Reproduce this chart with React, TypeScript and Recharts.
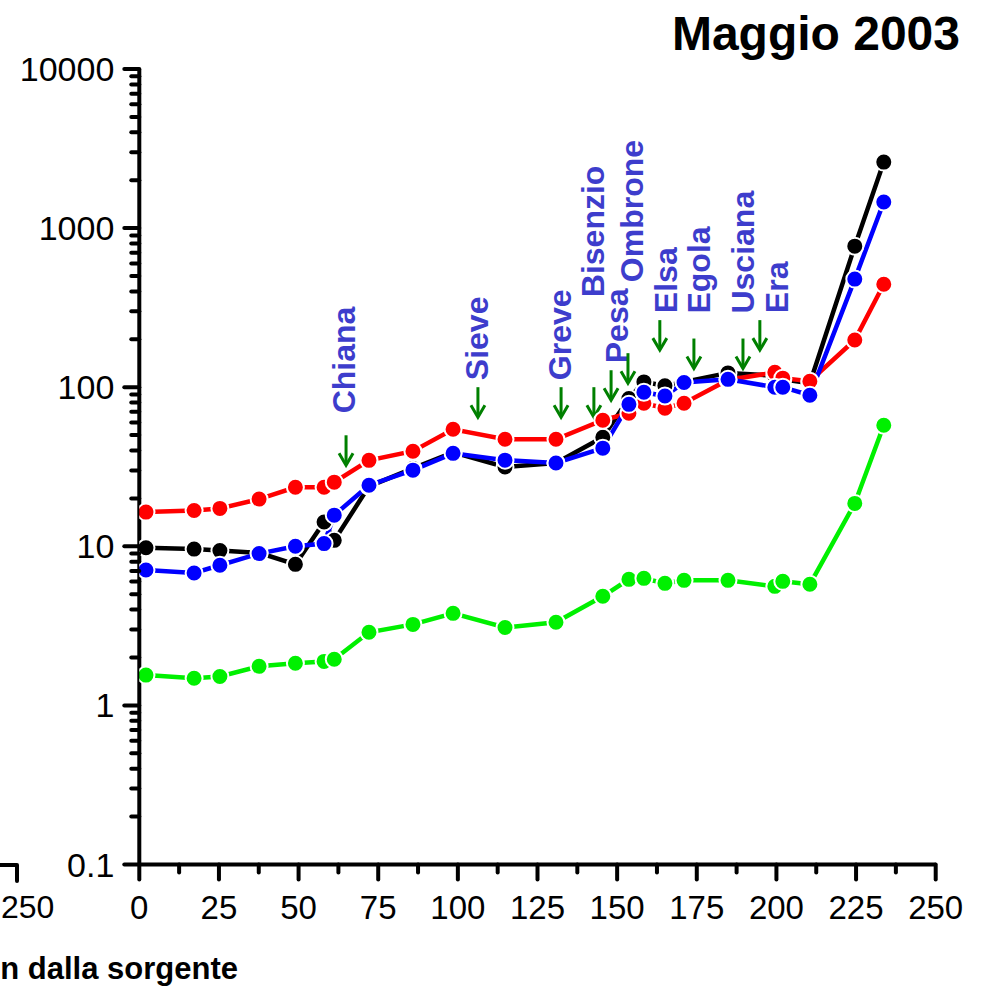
import React from 'react';
import { LineChart, Line, XAxis, YAxis, ReferenceDot } from 'recharts';

// distanza dalla sorgente (km)
const km = [2.1, 17.2, 25.3, 37.6, 49.0, 58.0, 61.2, 72.1, 85.9, 98.5, 114.8, 130.8, 145.5, 153.7, 158.4, 165.0, 171.0, 184.8, 199.5, 202.0, 210.5, 224.6, 233.7];

const blackValues = [9.8, 9.6, 9.4, 9.1, 7.7, 14.2, 10.9, 23.8, 30.9, 39, 31.5, 33.4, 48.5, 85, 108, 102, 108, 123, 118, 112, 106, 770, 2600];
const redValues = [16.4, 16.8, 17.3, 19.8, 23.5, 23.5, 25.3, 34.7, 39.6, 54.4, 47.1, 47.1, 62, 68.6, 79.3, 73.8, 79.3, 111, 124, 114, 109, 198, 444];
const blueValues = [7.1, 6.8, 7.6, 9.0, 10.0, 10.4, 15.7, 24.2, 30.1, 38.4, 34.8, 33.4, 41.4, 78, 93, 88, 107, 112, 100, 100, 89, 478, 1460];
const greenValues = [1.55, 1.48, 1.52, 1.76, 1.84, 1.89, 1.95, 2.88, 3.23, 3.79, 3.09, 3.33, 4.85, 6.2, 6.29, 5.85, 6.11, 6.11, 5.6, 6.02, 5.77, 18.6, 57.7];

// affluenti
const tributaries = ['Chiana', 'Sieve', 'Greve', 'Bisenzio', 'Pesa', 'Ombrone', 'Elsa', 'Egola', 'Usciana', 'Era'];
const tributaryKm = [64.9, 106.3, 132.4, 142.7, 148.1, 153.4, 163.4, 174.1, 189.5, 194.8];
const arrowTipValue = [32.3, 64.8, 64.8, 64.8, 82.8, 106, 171, 131, 131, 171];
// label offset from arrow tip, px
const labelOffsets = [
  [8.5, -52], [10.5, -37], [10, -37], [10.5, -120], [16.5, -37],
  [15.5, -101], [17.5, -37], [16.5, -55], [11.5, -55], [28.5, -37],
];

const xTicks = [0, 12.5, 25, 37.5, 50, 62.5, 75, 87.5, 100, 112.5, 125, 137.5, 150, 162.5, 175, 187.5, 200, 212.5, 225, 237.5, 250];
const decades = [0.1, 1, 10, 100, 1000, 10000];
const yTickLabels = ['0.1', '1', '10', '100', '1000', '10000'];
const minorSteps = [2, 3, 4, 5, 6, 7, 8, 9];

const yTicks: number[] = [];
decades.forEach((d, i) => {
  yTicks.push(d);
  if (i < decades.length - 1) minorSteps.forEach((m) => yTicks.push(+(d * m).toPrecision(3)));
});

const data = km.map((k, i) => ({
  km: k,
  black: blackValues[i],
  red: redValues[i],
  blue: blueValues[i],
  green: greenValues[i],
}));

const FONT = '"Liberation Sans", Arial, sans-serif';

function YTick({ x, y, payload }: any) {
  const idx = decades.findIndex((d) => Math.abs(d - payload.value) < 1e-9);
  const major = idx >= 0;
  return (
    <g>
      <line x1={x - (major ? 15 : 8)} y1={y} x2={x} y2={y} stroke="#000" strokeWidth={4} strokeLinecap="round" />
      {major && (
        <text x={x - 25} y={y + 12} textAnchor="end" fontSize={34} fontFamily={FONT} fill="#000">
          {yTickLabels[idx]}
        </text>
      )}
    </g>
  );
}

function XTick({ x, y, payload }: any) {
  const major = payload.value % 25 === 0;
  return (
    <g>
      <line x1={x} y1={y} x2={x} y2={y + (major ? 15 : 8)} stroke="#000" strokeWidth={4} strokeLinecap="round" />
      {major && (
        <text x={x} y={y + 54} textAnchor="middle" fontSize={33} fontFamily={FONT} fill="#000">
          {payload.value}
        </text>
      )}
    </g>
  );
}

function makeArrow(i: number) {
  return (props: any) => {
    const { cx, cy } = props;
    const [dx, dy] = labelOffsets[i];
    return (
      <g>
        <line x1={cx} y1={cy - 30} x2={cx} y2={cy - 1} stroke="#008000" strokeWidth={3} />
        <polyline points={`${cx - 7},${cy - 12} ${cx},${cy} ${cx + 7},${cy - 12}`} fill="none" stroke="#008000" strokeWidth={3} />
        <text
          x={cx + dx}
          y={cy + dy}
          transform={`rotate(-90 ${cx + dx} ${cy + dy})`}
          fontSize={32}
          fontWeight="bold"
          fontFamily={FONT}
          fill="#3d3dcc"
        >
          {tributaries[i]}
        </text>
      </g>
    );
  };
}

const dotStyle = (color: string) => ({ r: 8.5, fill: color, stroke: '#fff', strokeWidth: 2 });

export default function App() {
  return (
    <div style={{ position: 'absolute', left: 0, top: 0, width: 983, height: 990, background: '#fff' }}>
      <LineChart width={983} height={990} data={data} margin={{ top: 69, right: 47.3, bottom: 65.5, left: 0 }}>
        <XAxis
          dataKey="km"
          type="number"
          domain={[0, 250]}
          ticks={xTicks}
          interval={0}
          allowDataOverflow
          height={60}
          axisLine={{ stroke: '#000', strokeWidth: 4 }}
          tickLine={false}
          tickSize={0}
          tickMargin={0}
          tick={<XTick />}
        />
        <YAxis
          type="number"
          scale="log"
          domain={[0.1, 10000]}
          ticks={yTicks}
          interval={0}
          allowDataOverflow
          width={139.3}
          axisLine={{ stroke: '#000', strokeWidth: 4 }}
          tickLine={false}
          tickSize={0}
          tickMargin={0}
          tick={<YTick />}
        />
        {tributaries.map((name, i) => (
          <ReferenceDot
            key={name}
            x={tributaryKm[i]}
            y={arrowTipValue[i]}
            r={0}
            ifOverflow="visible"
            shape={makeArrow(i)}
          />
        ))}
        <Line dataKey="black" stroke="#000" strokeWidth={4.5} dot={dotStyle('#000')} isAnimationActive={false} />
        <Line dataKey="red" stroke="#ff0000" strokeWidth={4.5} dot={dotStyle('#ff0000')} isAnimationActive={false} />
        <Line dataKey="blue" stroke="#0000ff" strokeWidth={4.5} dot={dotStyle('#0000ff')} isAnimationActive={false} />
        <Line dataKey="green" stroke="#00f000" strokeWidth={4.5} dot={dotStyle('#00f000')} isAnimationActive={false} />
      </LineChart>
      <svg width={983} height={990} style={{ position: 'absolute', left: 0, top: 0, pointerEvents: 'none' }}>
        <text x={960} y={50} textAnchor="end" fontSize={48} fontWeight="bold" fontFamily={FONT} fill="#000">
          Maggio 2003
        </text>
        <text x={238} y={979} textAnchor="end" fontSize={31} fontWeight="bold" fontFamily={FONT} fill="#000">
          n dalla sorgente
        </text>
        {/* bordo del grafico accanto */}
        <line x1={0} y1={865} x2={17} y2={865} stroke="#000" strokeWidth={4} />
        <line x1={17} y1={865} x2={17} y2={881} stroke="#000" strokeWidth={4} strokeLinecap="round" />
        <text x={1} y={918} textAnchor="start" fontSize={32} fontFamily={FONT} fill="#000">
          250
        </text>
      </svg>
    </div>
  );
}
